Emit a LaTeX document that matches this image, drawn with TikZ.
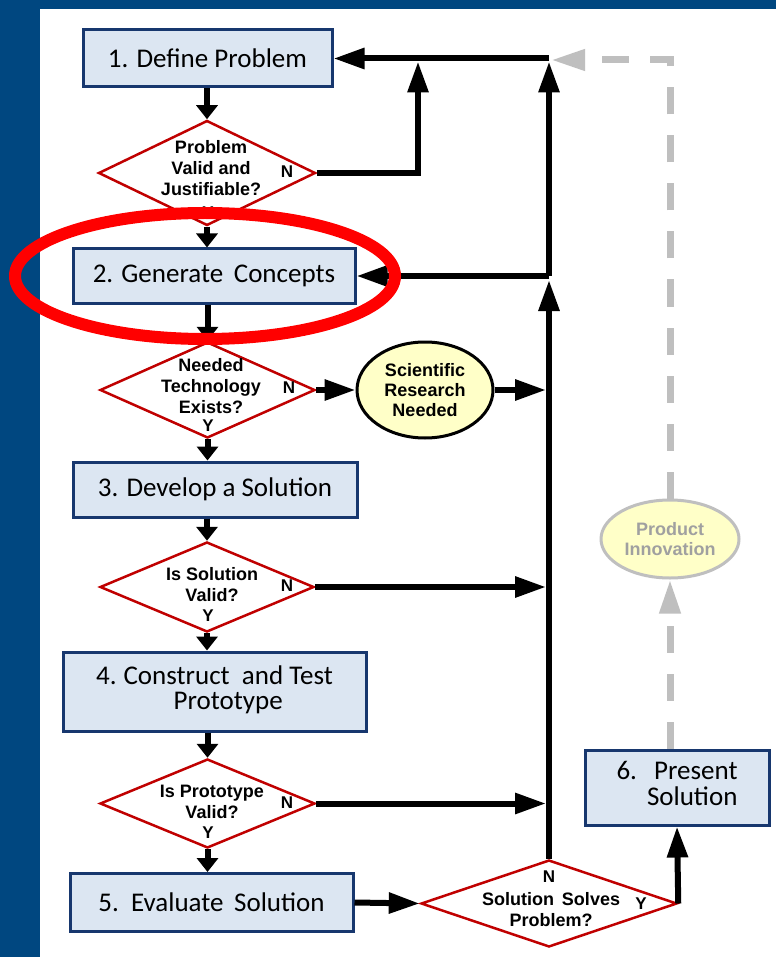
\documentclass[tikz,border=0pt]{standalone}
\usepackage{fontspec}
\setmainfont{Liberation Sans}
\newfontfamily\boxfont{Carlito}
\usetikzlibrary{arrows.meta,shapes.geometric}
\definecolor{slideblue}{RGB}{0,71,128}
\definecolor{boxfill}{RGB}{220,230,242}
\definecolor{boxline}{RGB}{23,55,110}
\definecolor{decline}{RGB}{192,0,0}
\definecolor{idea}{RGB}{255,255,200}
\definecolor{faded}{RGB}{191,191,191}
\definecolor{fadedtext}{RGB}{160,160,160}

\begin{document}
\begin{tikzpicture}[x=1pt,y=-1pt,
  stepbox/.style={draw=boxline, line width=3pt, fill=boxfill, rectangle, inner sep=0pt,
    font=\boxfont\fontsize{27}{25}\selectfont, text=black, align=center},
  query/.style={draw=decline, line width=2.5pt, fill=white, diamond, inner sep=0pt},
  qtext/.style={font=\bfseries\fontsize{18}{21}\selectfont, align=center, inner sep=0pt},
  yn/.style={font=\bfseries\fontsize{17}{20}\selectfont, inner sep=0pt},
  oval/.style={ellipse, draw=black, line width=3pt, fill=idea, inner sep=0pt,
    font=\bfseries\fontsize{18}{20}\selectfont, align=center},
  flow/.style={line width=6pt, draw=black},
  longtip/.style={flow, -{Triangle[length=31pt,width=20pt]}},
  shorttip/.style={flow, -{Triangle[length=14pt,width=21pt]}},
  ghost/.style={line width=7pt, draw=faded, dash pattern=on 27pt off 21pt,
    -{Triangle[length=34pt,width=20pt]}},
]
\useasboundingbox (0,0) rectangle (776,957);

% slide background
\fill[slideblue] (0,0) rectangle (776,957);
\fill[white] (40,9) rectangle (776,957);

% steps and decisions
\node[stepbox, minimum width=249, minimum height=57] (b1) at (207.5,58.5) {1. Define Problem};
\node[query, minimum width=217, minimum height=105] (d1) at (207,173) {};
\node[qtext] (d1t) at (211,168) {Problem\\Valid and\\Justifiable?};
\node[yn] (d1n) at (287,172) {N};
\node[yn] (d1y) at (208,213) {Y};

\node[stepbox, minimum width=282, minimum height=54] (b2) at (214,276) {2. Generate\ \,Concepts};
\node[query, minimum width=215, minimum height=96] (d2) at (207.5,390) {};
\node[qtext] (d2t) at (211,386) {Needed\\Technology\\Exists?};
\node[yn] (d2n) at (289,388) {N};
\node[yn] (d2y) at (208,426) {Y};
\node[oval, minimum width=136, minimum height=96] (e1) at (425,390) {Scientific\\Research\\Needed};

\node[stepbox, minimum width=284, minimum height=55] (b3) at (215,489.5) {3. Develop a Solution};
\node[query, minimum width=214, minimum height=90] (d3) at (207,587) {};
\node[qtext] (d3t) at (212,585) {Is Solution\\Valid?};
\node[yn] (d3n) at (287,586) {N};
\node[yn] (d3y) at (208,616) {Y};

\node[stepbox, minimum width=303, minimum height=79] (b4) at (214.5,691.5)
  {\begin{tabular}{@{}l@{}c@{}}4.\kern7pt & Construct\ \ and Test\\ & Prototype\end{tabular}};
\node[query, minimum width=215, minimum height=89] (d4) at (207.5,803.5) {};
\node[qtext] (d4t) at (212,802) {Is Prototype\\Valid?};
\node[yn] (d4n) at (287,803) {N};
\node[yn] (d4y) at (208,833) {Y};

\node[stepbox, minimum width=283, minimum height=58] (b5) at (211.5,902.5) {5.\ \ Evaluate\ \,Solution};
\node[query, minimum width=256, minimum height=87] (d5) at (549,903.5) {};
\node[qtext] (d5t) at (551,910) {Solution\ \,Solves\\Problem?};
\node[yn] (d5n) at (549,877) {N};
\node[yn] (d5y) at (641,904) {Y};

\node[stepbox, minimum width=184, minimum height=75] (b6) at (677,787.5)
  {\begin{tabular}{@{}l@{}r@{}}6.\kern10pt & Present\\ & Solution\end{tabular}};
\node[oval, draw=faded, text=fadedtext, minimum width=138, minimum height=78] (e2) at (670,539) {Product\\Innovation};

% return trunk
\coordinate (tl) at (546,0);
\coordinate (join2) at (549,276);
\coordinate (up1) at (549,280);
\coordinate (up2) at (549,61.5);
\coordinate (n1up) at (418,61.5);
\coordinate (ghostend) at (551,60);

% main flow, straight down the left spine
\draw[shorttip] (b1.south -| d1.north) -- (d1.north);
\draw[shorttip] (d1.south) -- (d1.south |- b2.north);
\draw[shorttip] (b2.south -| d2.north) -- (d2.north);
\draw[shorttip] (d2.south) -- (d2.south |- b3.north);
\draw[shorttip] (b3.south -| d3.north) -- (d3.north);
\draw[shorttip] (d3.south) -- (d3.south |- b4.north);
\draw[shorttip] (b4.south -| d4.north) -- (d4.north);
\draw[shorttip] (d4.south) -- (d4.south |- b5.north);
\draw[longtip] (b5.east) -- (d5.west);
\draw[longtip] (d5.east) -- (b6.south);

% loops back
\draw[longtip] (d5.north) -- (up1);
\draw[longtip] (join2) -- (up2);
\draw[longtip] (join2) -- (b2.east);
\draw[longtip] (b1.east -| up2) -- (b1.east);
\draw[longtip] (d1.east) -| (n1up);
\draw[longtip] (d2.east) -- (e1.west);
\draw[longtip] (e1.east) -- (e1.east -| tl);
\draw[longtip] (d3.east) -- (d3.east -| tl);
\draw[longtip] (d4.east) -- (d4.east -| tl);

% innovation path
\draw[ghost] (b6.north -| e2.south) -- (e2.south);
\draw[ghost] (e2.north) |- (ghostend);

% highlight
\node[ellipse, draw=red, line width=12pt, minimum width=380, minimum height=126, inner sep=0pt] (hilite) at (205,276) {};
\end{tikzpicture}
\end{document}
